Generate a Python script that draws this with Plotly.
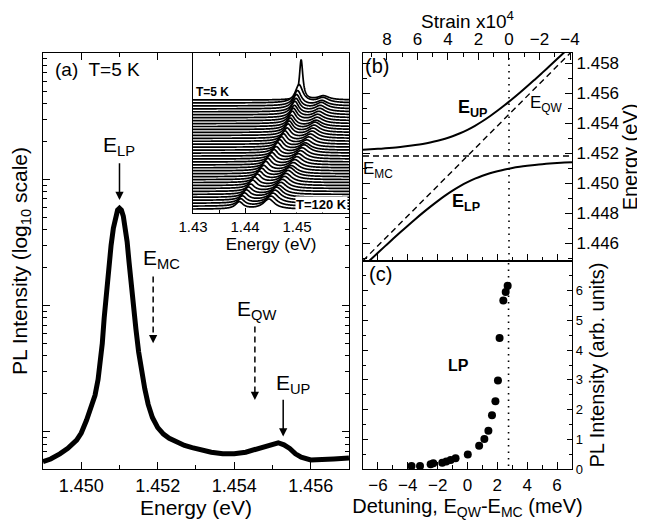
import numpy as np
import plotly.graph_objects as go

# ---------------- data ----------------
# (a) PL spectrum at T = 5 K
spec_energy = [1.44900, 1.44920, 1.44944, 1.44965, 1.44988, 1.45000, 1.45014, 1.45026, 1.45036, 1.45044,
               1.45050, 1.45055, 1.45060, 1.45066, 1.45072, 1.45078, 1.45084, 1.45090, 1.45095, 1.45100,
               1.45105, 1.45110, 1.45116, 1.45120, 1.45125, 1.45131, 1.45137, 1.45143, 1.45150, 1.45158,
               1.45166, 1.45175, 1.45186, 1.45200, 1.45215, 1.45230, 1.45250, 1.45270, 1.45290, 1.45310,
               1.45340, 1.45370, 1.45400, 1.45430, 1.45460, 1.45480, 1.45500, 1.45515, 1.45530, 1.45545,
               1.45560, 1.45575, 1.45600, 1.45630, 1.45660, 1.45700]
spec_intensity = [0.58, 0.61, 0.67, 0.74, 0.86, 0.98, 1.24, 1.55, 1.95, 2.6,
                  3.5, 5.0, 8.0, 13, 21, 30, 41, 51, 57, 59,
                  57, 51, 41, 32, 22, 14, 9.5, 6.5, 4.3, 3.0,
                  2.2, 1.65, 1.3, 1.08, 0.96, 0.89, 0.83, 0.78, 0.75, 0.72,
                  0.69, 0.67, 0.67, 0.69, 0.73, 0.76, 0.80, 0.82, 0.79, 0.74,
                  0.67, 0.63, 0.60, 0.60, 0.61, 0.62]

feature_names = ["LP", "MC", "QW", "UP"]
feature_energy = [1.45100, 1.45188, 1.45454, 1.45528]
feature_dashed = [False, True, True, False]

# (b) polariton dispersion vs detuning (meV)
detuning = [-7.0, -6.5, -6.0, -5.5, -5.0, -4.5, -4.0, -3.5, -3.0, -2.5, -2.0, -1.5, -1.0, -0.5, 0.0,
            0.5, 1.0, 1.5, 2.0, 2.5, 3.0, 3.5, 4.0, 4.5, 5.0, 5.5, 6.0, 6.5, 7.0]
energy_up = [1.452233, 1.452261, 1.452293, 1.452330, 1.452372, 1.452420, 1.452478, 1.452545, 1.452625,
             1.452721, 1.452836, 1.452974, 1.453140, 1.453338, 1.453570, 1.453838, 1.454140, 1.454474,
             1.454836, 1.455221, 1.455625, 1.456045, 1.456478, 1.456920, 1.457372, 1.457830, 1.458293,
             1.458761, 1.459233]
energy_lp = [1.444407, 1.444879, 1.445347, 1.445810, 1.446268, 1.446720, 1.447162, 1.447595, 1.448015,
             1.448419, 1.448804, 1.449166, 1.449500, 1.449802, 1.450070, 1.450302, 1.450500, 1.450666,
             1.450804, 1.450919, 1.451015, 1.451095, 1.451162, 1.451220, 1.451268, 1.451310, 1.451347,
             1.451379, 1.451407]
energy_mc = 1.45182
qw_detuning = [-7.0, 7.0]
energy_qw = [1.44482, 1.45882]
strain_zero_detuning = 2.75

# (c) LP intensity vs detuning
lp_detuning = [-3.75, -3.18, -2.47, -2.29, -1.69, -1.42, -1.13, -0.80, 0.02, 0.78,
               1.13, 1.40, 1.64, 1.87, 2.04, 2.15, 2.40, 2.56, 2.69]
lp_intensity = [0.10, 0.10, 0.16, 0.19, 0.21, 0.25, 0.30, 0.36, 0.49, 0.78,
                1.01, 1.29, 1.81, 2.28, 2.98, 4.41, 5.67, 5.96, 6.17]

# inset: temperature series 5 K (top) ... 120 K (bottom)
inset_lp_energy = [1.4508, 1.4504, 1.4501, 1.4499, 1.4498, 1.4496, 1.4495, 1.4493, 1.4491, 1.4489,
                   1.4487, 1.4485, 1.4483, 1.4481, 1.4477, 1.4474, 1.4470, 1.4467, 1.4463, 1.4460,
                   1.4456, 1.4452, 1.4448, 1.4444, 1.4440, 1.4436, 1.4432, 1.4428, 1.4424, 1.4419,
                   1.4415, 1.4411, 1.4407, 1.4403, 1.4399, 1.4395, 1.4392, 1.4389]
inset_up_energy = [1.4551, 1.4550, 1.4548, 1.4547, 1.4545, 1.4544, 1.4542, 1.4540, 1.4539, 1.4537,
                   1.4535, 1.4533, 1.4531, 1.4529, 1.4526, 1.4523, 1.4519, 1.4516, 1.4514, 1.4510,
                   1.4507, 1.4503, 1.4500, 1.4496, 1.4493, 1.4489, 1.4486, 1.4483, 1.4479, 1.4476,
                   1.4472, 1.4469, 1.4465, 1.4461, 1.4458, 1.4454, 1.4450, 1.4446]
inset_lp_height = [40, 18, 15, 14, 13, 13, 12, 12, 12, 11, 11, 11, 11, 10, 10, 10, 10, 10, 10, 9,
                   9, 9, 9, 9, 9, 8, 8, 8, 8, 8, 8, 7, 7, 7, 7, 7, 7, 7]
inset_up_height = [4, 5, 5, 6, 6, 6, 6, 6, 6, 6, 7, 7, 7, 7, 7, 7, 7, 7, 8, 8,
                   8, 8, 8, 8, 8, 8, 9, 9, 9, 9, 9, 9, 9, 10, 10, 10, 10, 10]

# ---------------- style / layout constants ----------------
FONT = "Liberation Sans, Arial, sans-serif"
E_RANGE_B = [1.4448, 1.4587]
INSET_TOP_BASE = 113.0
INSET_ROW_STEP = 2.95
LP_HWHM_TOP, LP_HWHM, UP_HWHM = 0.00040, 0.00090, 0.00130
arrow_span_log = {"LP": (2.138, 1.837), "MC": (1.230, 0.702), "QW": (0.834, 0.253), "UP": (0.267, -0.037)}
label_pos = {"LP": (1.45100, 2.262), "MC": (1.45210, 1.368), "QW": (1.45459, 0.964), "UP": (1.45554, 0.378)}

fig = go.Figure()

# ---- panel (a)
fig.add_trace(go.Scatter(x=spec_energy, y=spec_intensity, mode="lines",
                         line=dict(color="black", width=5), xaxis="x", yaxis="y"))
annotations = []
for name, e, dashed in zip(feature_names, feature_energy, feature_dashed):
    top, tip = arrow_span_log[name]
    if dashed:
        fig.add_trace(go.Scatter(x=[e, e], y=[10 ** top, 10 ** (tip + 0.06)], mode="lines",
                                 line=dict(color="black", width=1.5, dash="6px,4px"),
                                 xaxis="x", yaxis="y"))
        annotations.append(dict(x=e, y=tip, xref="x", yref="y", ax=0, ay=-9, text="",
                                showarrow=True, arrowhead=2, arrowsize=1.1, arrowwidth=1.5,
                                arrowcolor="black"))
    else:
        annotations.append(dict(x=e, y=tip, xref="x", yref="y", ax=e, ay=top, axref="x", ayref="y",
                                text="", showarrow=True, arrowhead=2, arrowsize=1.1, arrowwidth=1.5,
                                arrowcolor="black"))
    lx, ly = label_pos[name]
    annotations.append(dict(x=lx, y=ly, xref="x", yref="y", text="E<sub>%s</sub>" % name,
                            showarrow=False, font=dict(size=21)))
annotations.append(dict(x=1.44926, y=2.866, xref="x", yref="y", text="(a)  T=5 K", xanchor="left",
                        showarrow=False, font=dict(size=19)))

# ---- panel (b)
fig.add_trace(go.Scatter(x=[detuning[0], detuning[-1]], y=[energy_mc, energy_mc], mode="lines",
                         line=dict(color="black", width=1.4, dash="6px,4px"), xaxis="x2", yaxis="y2"))
fig.add_trace(go.Scatter(x=qw_detuning, y=energy_qw, mode="lines",
                         line=dict(color="black", width=1.4, dash="6px,4px"), xaxis="x2", yaxis="y2"))
fig.add_trace(go.Scatter(x=detuning, y=energy_up, mode="lines", line=dict(color="black", width=2, shape="spline"),
                         xaxis="x2", yaxis="y2"))
fig.add_trace(go.Scatter(x=detuning, y=energy_lp, mode="lines", line=dict(color="black", width=2, shape="spline"),
                         xaxis="x2", yaxis="y2"))
fig.add_trace(go.Scatter(x=[0, 0], y=E_RANGE_B, mode="lines",
                         line=dict(color="black", width=1.6, dash="1.5px,5px"), xaxis="x5", yaxis="y2"))
annotations += [
    dict(x=-6.08, y=1.45782, xref="x2", yref="y2", text="(b)", showarrow=False, font=dict(size=20)),
    dict(x=0.35, y=1.45496, xref="x2", yref="y2", text="<b>E<sub>UP</sub></b>", showarrow=False, font=dict(size=18)),
    dict(x=5.29, y=1.45530, xref="x2", yref="y2", text="E<sub>QW</sub>", showarrow=False, font=dict(size=17)),
    dict(x=-5.98, y=1.45089, xref="x2", yref="y2", text="E<sub>MC</sub>", showarrow=False, font=dict(size=17)),
    dict(x=-0.11, y=1.44873, xref="x2", yref="y2", text="<b>E<sub>LP</sub></b>", showarrow=False, font=dict(size=18)),
]

# ---- panel (c)
fig.add_trace(go.Scatter(x=[strain_zero_detuning, strain_zero_detuning], y=[0.1, 7], mode="lines",
                         line=dict(color="black", width=1.6, dash="1.5px,5px"), xaxis="x3", yaxis="y3"))
fig.add_trace(go.Scatter(x=lp_detuning, y=lp_intensity, mode="markers",
                         marker=dict(color="black", size=8), xaxis="x3", yaxis="y3"))
annotations += [
    dict(x=-5.85, y=6.55, xref="x3", yref="y3", text="(c)", showarrow=False, font=dict(size=20)),
    dict(x=-0.58, y=3.49, xref="x3", yref="y3", text="<b>LP</b>", showarrow=False, font=dict(size=16)),
]

# ---- inset waterfall
grid = np.linspace(1.43, 1.46, 601)
for i in range(len(inset_lp_energy)):
    base = INSET_TOP_BASE - INSET_ROW_STEP * i
    wl = LP_HWHM_TOP if i == 0 else LP_HWHM
    prof = (base
            + inset_lp_height[i] / (1 + ((grid - inset_lp_energy[i]) / wl) ** 2)
            + inset_up_height[i] / (1 + ((grid - inset_up_energy[i]) / UP_HWHM) ** 2))
    fig.add_trace(go.Scatter(x=np.concatenate([grid, grid[::-1]]),
                             y=np.concatenate([prof, np.full(grid.size, base - 0.4)]),
                             fill="toself", fillcolor="white", mode="lines", line=dict(width=0),
                             xaxis="x4", yaxis="y4", hoverinfo="skip"))
    fig.add_trace(go.Scatter(x=grid, y=prof, mode="lines", line=dict(color="black", width=1.7, simplify=False),
                             xaxis="x4", yaxis="y4", hoverinfo="skip"))
annotations += [
    dict(x=1.4302, y=121, xref="x4", yref="y4", text="<b>T=5 K</b>", xanchor="left", showarrow=False,
         font=dict(size=12)),
    dict(x=1.4598, y=8, xref="x4", yref="y4", text="<b>T=120 K</b>", xanchor="right", showarrow=False,
         font=dict(size=13), bgcolor="white", borderpad=0),
]

axis_common = dict(showline=True, linecolor="black", linewidth=1.2, ticks="inside", ticklen=7,
                   tickwidth=1.1, tickcolor="black", showgrid=False, zeroline=False, automargin=False)
minor_common = dict(ticks="inside", ticklen=4, tickwidth=1, tickcolor="black", showgrid=False)

# page body adds an 8px offset, so the figure is sized to sit inside the 645x520 window
fig.update_layout(
    width=637, height=512, margin=dict(l=35, r=73, t=45, b=51),
    paper_bgcolor="white", plot_bgcolor="white", showlegend=False,
    font=dict(family=FONT, color="black", size=16),
    annotations=annotations,
    xaxis=dict(axis_common, domain=[0, 0.5784], anchor="y", range=[1.449, 1.457], mirror="ticks",
               tick0=1.450, dtick=0.002, tickformat=".3f", tickfont=dict(size=18),
               minor=dict(minor_common, dtick=0.001),
               title=dict(text="Energy (eV)", font=dict(size=21), standoff=3)),
    yaxis=dict(axis_common, domain=[0, 1], anchor="x", type="log", range=[-0.294, 3], mirror="ticks",
               dtick=1, showticklabels=False,
               minor=dict(minor_common, dtick="D1"),
               title=dict(text="PL Intensity (log<sub>10</sub> scale)", font=dict(size=21), standoff=10)),
    xaxis2=dict(axis_common, domain=[0.6049, 1], anchor="y2", range=[-7, 7], mirror=True,
                dtick=2, showticklabels=False, minor=dict(minor_common, dtick=1)),
    yaxis2=dict(axis_common, domain=[0.5, 1], anchor="x2", side="right", range=E_RANGE_B, mirror="ticks",
                tick0=1.446, dtick=0.002, tickformat=".3f", tickfont=dict(size=17),
                minor=dict(minor_common, dtick=0.001),
                title=dict(text="Energy (eV)", font=dict(size=20), standoff=2)),
    xaxis5=dict(axis_common, overlaying="x2", anchor="y2", side="top", range=[9.57, -4.13],
                tick0=0, dtick=2, tickfont=dict(size=17), minor=dict(minor_common, dtick=1),
                title=dict(text="Strain x10<sup>4</sup>", font=dict(size=19), standoff=4)),
    xaxis3=dict(axis_common, domain=[0.6049, 1], anchor="y3", range=[-7, 7], mirror=True,
                tick0=0, dtick=2, tickfont=dict(size=17), minor=dict(minor_common, dtick=1),
                title=dict(text="Detuning, E<sub>QW</sub>-E<sub>MC</sub> (meV)", font=dict(size=20), standoff=3)),
    yaxis3=dict(axis_common, domain=[0, 0.5], anchor="x3", side="right", range=[0, 7], mirror="ticks",
                tickvals=[0, 1, 2, 3, 4, 5, 6], tickfont=dict(size=13), ticklen=5,
                minor=dict(minor_common, dtick=0.5, ticklen=3),
                title=dict(text="PL Intensity (arb. units)", font=dict(size=20), standoff=8)),
    xaxis4=dict(axis_common, domain=[0.2836, 0.5784], anchor="y4", range=[1.43, 1.46], mirror="ticks",
                tickvals=[1.43, 1.44, 1.45], ticktext=["1.43", "1.44", "1.45"], ticklen=5,
                tickfont=dict(size=15), minor=dict(minor_common, tickmode="array",
                                                   tickvals=[1.435, 1.445, 1.455], ticklen=3),
                title=dict(text="Energy (eV)", font=dict(size=17), standoff=0)),
    yaxis4=dict(axis_common, domain=[0.6154, 1], anchor="x4", range=[0, 160], mirror=True,
                ticks="", showticklabels=False),
)

fig.write_html("out.html")
